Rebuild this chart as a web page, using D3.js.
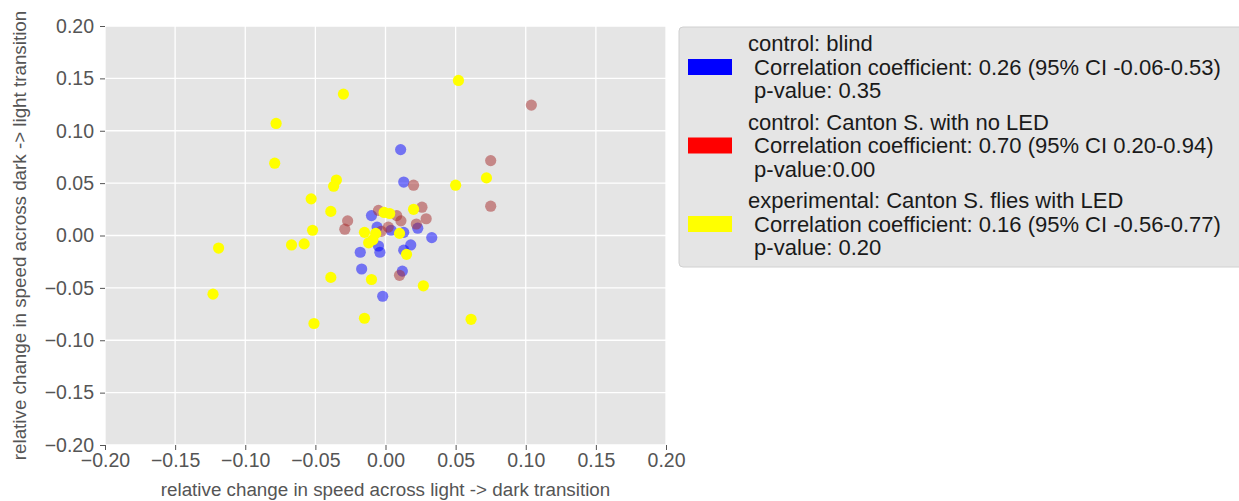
<!DOCTYPE html>
<html>
<head>
<meta charset="utf-8">
<script src="https://cdn.jsdelivr.net/npm/d3@7"></script>
<style>
  body { margin: 0; background: #fff; }
  text { font-family: "Liberation Sans", Arial, sans-serif; }
</style>
</head>
<body>
<script>
// data
var blindX = [0.0108, 0.013, -0.010, 0.023, -0.006, 0.004, 0.013, 0.033, -0.005, -0.004, -0.018, 0.018, 0.013, -0.017, 0.012, -0.002];
var blindY = [0.082, 0.051, 0.019, 0.007, 0.008, 0.005, 0.003, -0.002, -0.010, -0.016, -0.016, -0.009, -0.014, -0.032, -0.034, -0.058];

var noLedX = [0.104, 0.075, 0.075, 0.020, -0.027, -0.029, -0.005, 0.008, 0.011, 0.026, 0.029, 0.022, 0.002, -0.003, 0.010];
var noLedY = [0.1245, 0.0715, 0.028, 0.048, 0.014, 0.006, 0.024, 0.019, 0.014, 0.027, 0.016, 0.011, 0.008, 0.004, -0.038];

var ledX = [0.052, -0.030, -0.078, -0.079, -0.035, -0.037, -0.053, -0.039, -0.052, -0.058, -0.067, -0.119, -0.123, -0.039, -0.051,
            -0.015, -0.010, 0.027, 0.061, 0.050, 0.072, 0.020, -0.001, 0.003, 0.010, -0.015, -0.007, -0.009, -0.012, 0.015];
var ledY = [0.148, 0.135, 0.107, 0.069, 0.053, 0.047, 0.035, 0.023, 0.005, -0.008, -0.009, -0.012, -0.056, -0.040, -0.084,
            -0.079, -0.042, -0.048, -0.080, 0.048, 0.055, 0.025, 0.022, 0.021, 0.002, 0.003, 0.002, -0.004, -0.007, -0.018];

var tickValues = [-0.20, -0.15, -0.10, -0.05, 0.00, 0.05, 0.10, 0.15, 0.20];

var legendLines = [
    ["control: blind", " Correlation coefficient: 0.26 (95% CI -0.06-0.53)", " p-value: 0.35"],
    ["control: Canton S. with no LED", " Correlation coefficient: 0.70 (95% CI 0.20-0.94)", " p-value:0.00"],
    ["experimental: Canton S. flies with LED", " Correlation coefficient: 0.16 (95% CI -0.56-0.77)", " p-value: 0.20"]
];

var groups = [
    {x: blindX, y: blindY, color: "blue", opacity: 0.5, swatch: "blue"},
    {x: noLedX, y: noLedY, color: "brown", opacity: 0.5, swatch: "red"},
    {x: ledX, y: ledY, color: "yellow", opacity: 1, swatch: "yellow"}
];

// plot box
var plotLeft = 105, plotRight = 666, plotTop = 26, plotBottom = 445;

var x = d3.scaleLinear().domain([-0.2, 0.2]).range([plotLeft, plotRight]);
var y = d3.scaleLinear().domain([-0.2, 0.2]).range([plotBottom, plotTop]);

var svg = d3.select("body").append("svg")
    .attr("width", 1239)
    .attr("height", 501);

// background
svg.append("rect")
    .attr("x", plotLeft).attr("y", plotTop)
    .attr("width", plotRight - plotLeft).attr("height", plotBottom - plotTop)
    .attr("fill", "#e5e5e5");

// grid
svg.append("g").selectAll("line").data(tickValues).join("line")
    .attr("x1", function(d) { return x(d); }).attr("x2", function(d) { return x(d); })
    .attr("y1", plotTop).attr("y2", plotBottom)
    .attr("stroke", "white").attr("stroke-width", 1.3);
svg.append("g").selectAll("line").data(tickValues).join("line")
    .attr("y1", function(d) { return y(d); }).attr("y2", function(d) { return y(d); })
    .attr("x1", plotLeft).attr("x2", plotRight)
    .attr("stroke", "white").attr("stroke-width", 1.3);

// points
groups.forEach(function(g) {
    svg.append("g").selectAll("circle").data(g.x).join("circle")
        .attr("cx", function(d) { return x(d); })
        .attr("cy", function(d, i) { return y(g.y[i]); })
        .attr("r", 5.6)
        .attr("fill", g.color)
        .attr("fill-opacity", g.opacity);
});

// axes
var fmt = d3.format(".2f");
var xAxis = svg.append("g")
    .attr("transform", "translate(0," + plotBottom + ")")
    .call(d3.axisBottom(x).tickValues(tickValues).tickFormat(fmt).tickSize(5).tickPadding(3));
var yAxis = svg.append("g")
    .attr("transform", "translate(" + plotLeft + ",0)")
    .call(d3.axisLeft(y).tickValues(tickValues).tickFormat(fmt).tickSize(5).tickPadding(6));
[xAxis, yAxis].forEach(function(a) {
    a.select(".domain").remove();
    a.selectAll(".tick line").attr("stroke", "#555");
    a.selectAll(".tick text")
        .attr("fill", "#555")
        .style("font-size", "19.5px")
        .style("font-family", "'Liberation Sans', Arial, sans-serif");
});

// axis labels
svg.append("text")
    .attr("x", (plotLeft + plotRight) / 2)
    .attr("y", 496)
    .attr("text-anchor", "middle")
    .attr("fill", "#555")
    .style("font-size", "18.8px")
    .text("relative change in speed across light -> dark transition");

svg.append("text")
    .attr("transform", "translate(26," + (plotTop + plotBottom) / 2 + ") rotate(-90)")
    .attr("text-anchor", "middle")
    .attr("fill", "#555")
    .style("font-size", "18.8px")
    .text("relative change in speed across dark -> light transition");

// legend
var legend = svg.append("g");
legend.append("rect")
    .attr("x", 679).attr("y", 27)
    .attr("width", 570).attr("height", 240)
    .attr("rx", 4)
    .attr("fill", "#e5e5e5")
    .attr("stroke", "#d0d0d0");

groups.forEach(function(g, i) {
    var gy = 43 + i * 78.5;
    legend.append("rect")
        .attr("x", 688).attr("y", gy + 16)
        .attr("width", 44).attr("height", 16)
        .attr("fill", g.swatch);
    legendLines[i].forEach(function(line, j) {
        legend.append("text")
            .attr("x", 748)
            .attr("y", gy + 8 + j * 23.5)
            .attr("fill", "#1a1a1a")
            .style("font-size", "22px")
            .style("white-space", "pre")
            .text(line);
    });
});
</script>
</body>
</html>
